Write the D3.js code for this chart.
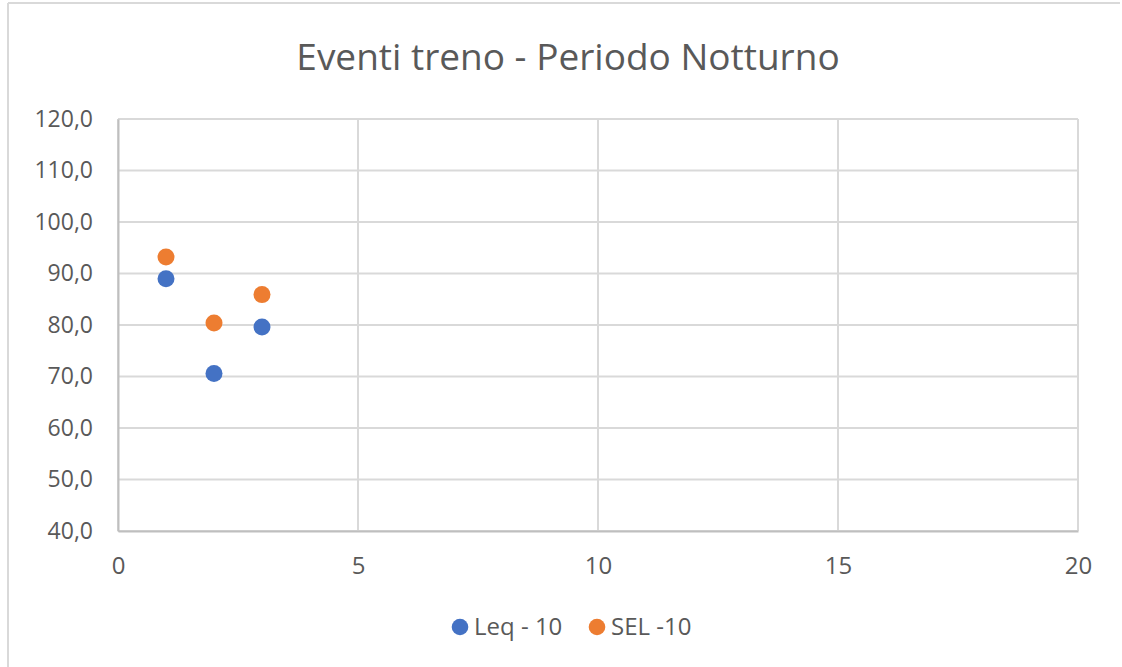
<!DOCTYPE html>
<html>
<head>
<meta charset="utf-8">
<script src="https://cdn.jsdelivr.net/npm/d3@7"></script>
<style>
  body { margin: 0; background: #fff; }
  text { font-family: "Open Sans", sans-serif; fill: #595959; }
</style>
</head>
<body>
<div id="chart"></div>
<script>
// data
var xValues = [1, 2, 3];
var leqValues = [89.0, 70.6, 79.6];
var selValues = [93.2, 80.4, 85.9];
var seriesNames = ["Leq - 10", "SEL -10"];
var xTicks = [0, 5, 10, 15, 20];
var yTicks = [40, 50, 60, 70, 80, 90, 100, 110, 120];

var W = 1122, H = 667;
var margin = {top: 119, right: 44, bottom: 136, left: 118},
    width = W - margin.left - margin.right,
    height = H - margin.top - margin.bottom;

var svg = d3.select("#chart")
    .append("svg")
        .attr("width", W)
        .attr("height", H);

// outer frame (only top and left visible)
svg.append("line").attr("x1", 8).attr("x2", 1120).attr("y1", 3).attr("y2", 3)
    .attr("stroke", "#d9d9d9").attr("stroke-width", 2);
svg.append("line").attr("x1", 8).attr("x2", 8).attr("y1", 3).attr("y2", H)
    .attr("stroke", "#d9d9d9").attr("stroke-width", 2);

// title
svg.append("text")
    .attr("x", 568)
    .attr("y", 70)
    .attr("text-anchor", "middle")
    .style("font-size", "37px")
    .text("Eventi treno - Periodo Notturno");

var g = svg.append("g")
    .attr("transform", "translate(" + margin.left + "," + margin.top + ")");

var x = d3.scaleLinear().domain([0, 20]).range([0, width]);
var y = d3.scaleLinear().domain([40, 120]).range([height, 0]);

// gridlines
g.append("g")
    .selectAll("line.h")
    .data(yTicks)
    .enter()
    .append("line")
        .attr("x1", 0).attr("x2", width)
        .attr("y1", function (d) { return y(d); })
        .attr("y2", function (d) { return y(d); })
        .attr("stroke", "#d9d9d9").attr("stroke-width", 2);
g.append("g")
    .selectAll("line.v")
    .data(xTicks)
    .enter()
    .append("line")
        .attr("x1", function (d) { return x(d); })
        .attr("x2", function (d) { return x(d); })
        .attr("y1", 0).attr("y2", height)
        .attr("stroke", "#d9d9d9").attr("stroke-width", 2);

// axes
var fmt = function (d) { return d3.format(".1f")(d).replace(".", ","); };

var xAxis = g.append("g")
    .attr("transform", "translate(0," + height + ")")
    .call(d3.axisBottom(x).tickValues(xTicks).tickSize(0).tickPadding(26));
xAxis.select(".domain").attr("stroke", "#bfbfbf").attr("stroke-width", 2);
xAxis.selectAll("text").style("font-size", "24px").attr("fill", "#595959")
    .style("font-family", "'Open Sans', sans-serif");

var yAxis = g.append("g")
    .call(d3.axisLeft(y).tickValues(yTicks).tickFormat(fmt).tickSize(0).tickPadding(25));
yAxis.select(".domain").attr("stroke", "#bfbfbf").attr("stroke-width", 2);
yAxis.selectAll("text").style("font-size", "23px").attr("fill", "#595959")
    .style("font-family", "'Open Sans', sans-serif");

// dots
var colors = ["#4472C4", "#ED7D31"];
var series = [leqValues, selValues];
series.forEach(function (vals, i) {
    g.append("g")
        .selectAll("circle")
        .data(vals)
        .enter()
        .append("circle")
            .attr("cx", function (d, j) { return x(xValues[j]); })
            .attr("cy", function (d) { return y(d); })
            .attr("r", 8.5)
            .style("fill", colors[i]);
});

// legend
var legend = svg.append("g");
var legX = [460, 597];
seriesNames.forEach(function (name, i) {
    legend.append("circle")
        .attr("cx", legX[i]).attr("cy", 627).attr("r", 8.3)
        .style("fill", colors[i]);
    legend.append("text")
        .attr("x", legX[i] + 14).attr("y", 635)
        .style("font-size", "24px")
        .text(name);
});
</script>
</body>
</html>
